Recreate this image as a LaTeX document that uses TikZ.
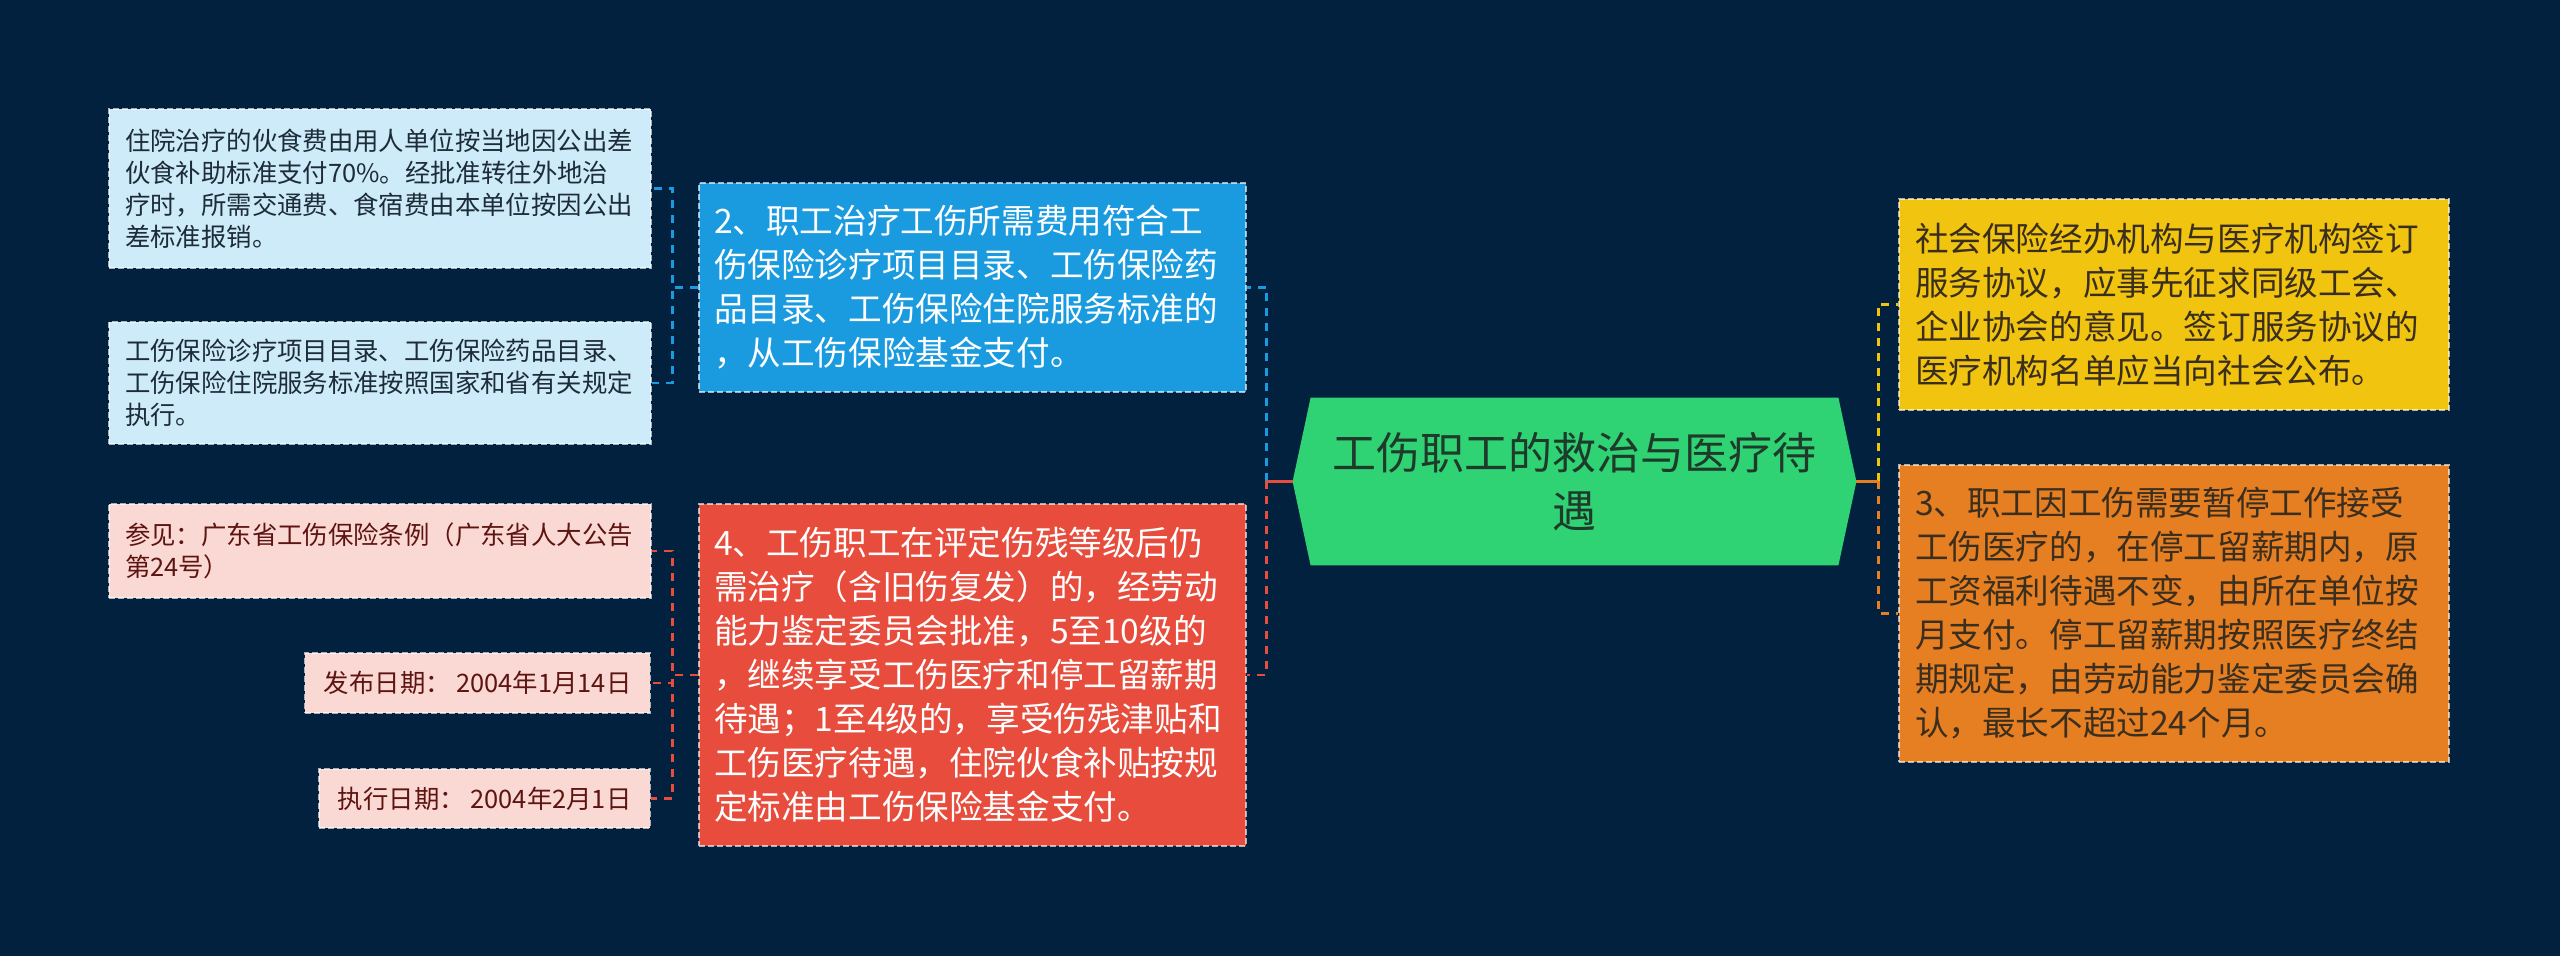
\documentclass[tikz,border=0pt]{standalone}
\usepackage{fontspec}
\setmainfont{Noto Sans CJK SC}
\usetikzlibrary{backgrounds}

\definecolor{bgnavy}{HTML}{02213F}
\definecolor{noteblue}{HTML}{CDEBF8}
\definecolor{notetext}{HTML}{1E2B38}
\definecolor{topicblue}{HTML}{1A9BE0}
\definecolor{topicred}{HTML}{E74C3C}
\definecolor{notepink}{HTML}{FAD9D5}
\definecolor{pinktext}{HTML}{5E1410}
\definecolor{rootgreen}{HTML}{2FD373}
\definecolor{roottext}{HTML}{1F3A2B}
\definecolor{topicyellow}{HTML}{F1C40F}
\definecolor{topicorange}{HTML}{E67E22}
\definecolor{darktext}{HTML}{3A2E1F}

\tikzset{
  box/.style={draw=white, draw opacity=0.65, dash pattern=on 3pt off 1.5pt,
    line width=0.6pt, align=left},
  note/.style={box, inner xsep=8pt, font=\fontsize{12.7}{16}\selectfont},
  bluenote/.style={note, fill=noteblue, text=notetext, text width=255pt},
  pinknote/.style={note, fill=notepink, text=pinktext},
  topic/.style={box, inner xsep=7.5pt, text width=258.5pt,
    font=\fontsize{16.8}{22}\selectfont},
  link/.style={line width=1.2pt, dash pattern=on 4pt off 3.5pt},
  stub/.style={line width=1.2pt}
}

\begin{document}
\begin{tikzpicture}[x=0.5pt, y=-0.5pt]
\useasboundingbox (0,0) rectangle (2560,956);

% left: notes of topic 2
\node (ward) [bluenote, minimum height=79.5pt] at (380,188.5)
  {住院治疗的伙食费由用人单位按当地因公出差\\伙食补助标准支付70\%。经批准转往外地治\\疗时，所需交通费、食宿费由本单位按因公出\\差标准报销。};
\node (lists) [bluenote, minimum height=61pt] at (380,383)
  {工伤保险诊疗项目目录、工伤保险药品目录、\\工伤保险住院服务标准按照国家和省有关规定\\执行。};

% left: notes of topic 4
\node (seealso) [pinknote, text width=255pt, minimum height=47pt] at (380,551)
  {参见：广东省工伤保险条例（广东省人大公告\\第24号）};
\node (issued) [pinknote, anchor=east, inner xsep=9.5pt, minimum height=30pt] at (651,683)
  {发布日期： 2004年1月14日};
\node (effective) [pinknote, anchor=east, inner xsep=9.5pt, minimum height=29.5pt] at (651,798.5)
  {执行日期： 2004年2月1日};

% topics
\node (costs) [topic, fill=topicblue, text=white, minimum height=104.5pt] at (972.5,287.5)
  {2、职工治疗工伤所需费用符合工\\伤保险诊疗项目目录、工伤保险药\\品目录、工伤保险住院服务标准的\\，从工伤保险基金支付。};
\node (relapse) [topic, fill=topicred, text=white, minimum height=171pt] at (972.5,675)
  {4、工伤职工在评定伤残等级后仍\\需治疗（含旧伤复发）的，经劳动\\能力鉴定委员会批准，5至10级的\\，继续享受工伤医疗和停工留薪期\\待遇；1至4级的，享受伤残津贴和\\工伤医疗待遇，住院伙食补贴按规\\定标准由工伤保险基金支付。};
\node (contract) [topic, fill=topicyellow, text=darktext, inner xsep=8pt, text width=259pt,
  minimum height=105.5pt] at (2174,304.5)
  {社会保险经办机构与医疗机构签订\\服务协议，应事先征求同级工会、\\企业协会的意见。签订服务协议的\\医疗机构名单应当向社会公布。};
\node (leave) [topic, fill=topicorange, text=darktext, inner xsep=8pt, text width=259pt,
  minimum height=148.5pt] at (2174,613.5)
  {3、职工因工伤需要暂停工作接受\\工伤医疗的，在停工留薪期内，原\\工资福利待遇不变，由所在单位按\\月支付。停工留薪期按照医疗终结\\期规定，由劳动能力鉴定委员会确\\认，最长不超过24个月。};

% root
\node (root) [align=center, text=roottext, minimum width=281.5pt, minimum height=83.5pt,
  font=\fontsize{22}{29}\selectfont] at (1574.5,481.5)
  {工伤职工的救治与医疗待\\遇};

\begin{scope}[on background layer]
\fill[bgnavy] (0,0) rectangle (2560,956);
\fill[rootgreen] ([xshift=9pt]root.north west) -- ([xshift=-9pt]root.north east)
  -- (root.east) -- ([xshift=-9pt]root.south east)
  -- ([xshift=9pt]root.south west) -- (root.west) -- cycle;
\end{scope}

% connectors
\coordinate (lj) at ([xshift=-13pt]root.west);
\coordinate (rj) at ([xshift=11pt]root.east);
\draw[link, topicblue] (lj) |- (costs.east);
\draw[link, topicred] (lj) |- (relapse.east);
\draw[stub, topicred] (root.west) -- (lj);
\draw[link, topicyellow] (rj) |- (contract.west);
\draw[link, topicorange] (rj) |- (leave.west);
\draw[stub, topicorange] (root.east) -- (rj);

\draw[link, topicblue] (costs.west) -- ++(-26,0) |- (ward.east);
\draw[link, topicblue] (costs.west) -- ++(-26,0) |- (lists.east);
\draw[link, topicred] (relapse.west) -- ++(-26,0) |- (seealso.east);
\draw[link, topicred] (relapse.west) -- ++(-26,0) |- (issued.east);
\draw[link, topicred] (relapse.west) -- ++(-26,0) |- (effective.east);
\end{tikzpicture}
\end{document}
